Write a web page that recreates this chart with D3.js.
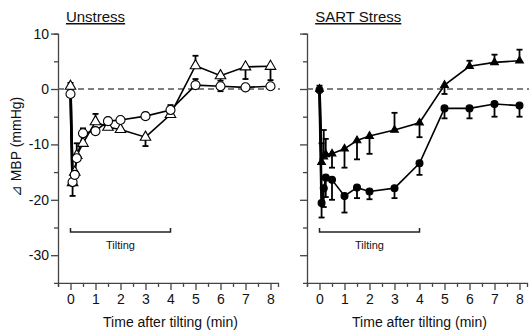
<!DOCTYPE html>
<html>
<head>
<meta charset="utf-8">
<script src="https://cdn.jsdelivr.net/npm/d3@7"></script>
<style>
  body { margin: 0; background: #fff; }
  text { font-family: "Liberation Sans", Arial, sans-serif; fill: #111; }
</style>
</head>
<body>
<div id="chart"></div>
<script>
'use strict';

// time points (min after tilting)
let times = [0, 0.083, 0.17, 0.25, 0.5, 1, 1.5, 2, 3, 4, 5, 6, 7, 8];

// Unstress panel: open circles / open triangles
let unCircle    = [-0.9, -16.8, -15.5, -12.5, -8.0, -7.6, -5.8, -5.6, -4.9, -3.8, 0.7, 0.5, 0.3, 0.5];
let unCircleErr = [null, null, null, null, -7.1, null, null, null, -4.3, -2.9, 1.8, -0.4, null, null];
let unTri       = [0.5, -16.9, -15.0, -12.0, -9.8, -5.9, -6.9, -7.3, -8.7, -4.6, 4.2, 2.4, 4.0, 4.1];
let unTriErr    = [1.1, -19.3, null, -9.8, null, -4.5, null, null, -10.3, null, 6.0, 1.5, 1.8, 1.6];

// SART Stress panel: filled circles / filled triangles
let stCircle    = [-0.2, -20.6, -17.9, -16.0, -16.4, -19.3, -17.8, -18.5, -17.9, -13.4, -3.5, -3.5, -2.7, -3.0];
let stCircleErr = [null, -23.2, -21.3, -19.5, -20.0, -22.3, -19.7, -19.9, -19.7, -15.5, -5.3, -5.3, -5.0, -5.0];
let stTri       = [0, -13.2, -12.2, -11.8, -11.7, -10.8, -9.3, -8.5, -7.4, -6.1, 0.7, 4.1, 4.8, 5.1];
let stTriErr    = [0.6, -9.8, -7.4, -9.0, -14.2, -14.2, -12.7, -11.7, -4.3, -8.7, -0.9, 5.1, 6.2, 7.1];

let xTicks = [0, 1, 2, 3, 4, 5, 6, 7, 8];
let yTicks = [10, 0, -10, -20, -30];
let tiltRange = [0, 4];

let width = 531, height = 331;
let svg = d3.select("#chart").append("svg")
    .attr("width", width).attr("height", height);

let y = d3.scaleLinear().domain([-35, 10]).range([282.9, 33.6]);

let panels = [
    {title: "Unstress", titleAt: 1, left: 58, right: 278, labels: true, filled: false,
     series: [{v: unTri, e: unTriErr, sym: d3.symbolTriangle}, {v: unCircle, e: unCircleErr, sym: d3.symbolCircle}]},
    {title: "SART Stress", titleAt: 1.55, left: 307, right: 527, labels: false, filled: true,
     series: [{v: stTri, e: stTriErr, sym: d3.symbolTriangle}, {v: stCircle, e: stCircleErr, sym: d3.symbolCircle}]}
];

let axisCol = "#444";

panels.forEach(function(p) {
    let x = d3.scaleLinear().domain([-0.5, 8.3]).range([p.left, p.right]);
    let g = svg.append("g");

    // y axis
    let yAxis = d3.axisLeft(y).tickValues(d3.range(-35, 10.1, 5)).tickSize(4)
        .tickFormat(function(d) { return (p.labels && yTicks.indexOf(d) >= 0) ? d : ""; });
    let ya = g.append("g").attr("transform", "translate(" + p.left + ",0)").call(yAxis);
    ya.select(".domain").attr("stroke", axisCol).attr("stroke-width", 1.3);
    ya.selectAll(".tick line").attr("stroke", axisCol).attr("stroke-width", 1.3)
        .attr("x2", function(d) { return yTicks.indexOf(d) >= 0 ? -7 : -4; });
    ya.selectAll(".tick").filter(function(d) { return d == -35; }).remove();
    ya.selectAll(".tick text").attr("x", -9).style("font-size", "14px")
        .style("font-family", '"Liberation Sans", Arial, sans-serif').attr("fill", "#111");

    // x axis
    let xAxis = d3.axisBottom(x).tickValues(d3.range(-0.5, 8.01, 0.5)).tickSize(4)
        .tickFormat(function(d) { return xTicks.indexOf(d) >= 0 ? d : ""; });
    let xa = g.append("g").attr("transform", "translate(0," + y(-35) + ")").call(xAxis);
    xa.select(".domain").attr("stroke", axisCol).attr("stroke-width", 1.3);
    xa.selectAll(".tick line").attr("stroke", axisCol).attr("stroke-width", 1.3)
        .attr("y2", function(d) { return xTicks.indexOf(d) >= 0 ? 7 : 4; });
    xa.selectAll(".tick text").attr("y", 11).style("font-size", "14px")
        .style("font-family", '"Liberation Sans", Arial, sans-serif').attr("fill", "#111");

    g.append("text").attr("x", (x(0) + x(8)) / 2 + 0).attr("y", 327)
        .attr("text-anchor", "middle").style("font-size", "14px")
        .text("Time after tilting (min)");

    // title
    g.append("text").attr("x", x(p.titleAt)).attr("y", 22)
        .attr("text-anchor", "middle").style("font-size", "15px")
        .style("text-decoration", "underline").text(p.title);

    // zero line
    g.append("line").attr("x1", p.left).attr("x2", p.right + 2)
        .attr("y1", y(0)).attr("y2", y(0))
        .attr("stroke", "#555").attr("stroke-width", 1.3).attr("stroke-dasharray", "6,4");

    // tilting bracket
    let by = y(-25.8);
    g.append("path")
        .attr("d", "M" + x(tiltRange[0]) + "," + (by - 4) + "V" + by + "H" + x(tiltRange[1]) + "V" + (by - 4))
        .attr("fill", "none").attr("stroke", "#222").attr("stroke-width", 1.5);
    g.append("text").attr("x", x(2)).attr("y", by + 17)
        .attr("text-anchor", "middle").style("font-size", "11px").text("Tilting");

    let line = d3.line().x(function(d) { return x(d[0]); }).y(function(d) { return y(d[1]); });

    p.series.forEach(function(s) {
        let pts = times.map(function(t, i) { return [t, s.v[i], s.e[i]]; });
        g.append("path").datum(pts).attr("d", line)
            .attr("fill", "none").attr("stroke", "#000").attr("stroke-width", 1.6);
        // drop from baseline drawn heavier
        g.append("path").datum(pts.slice(0, 2)).attr("d", line)
            .attr("fill", "none").attr("stroke", "#000").attr("stroke-width", 2.6);

        pts.filter(function(d) { return d[2] != null; }).forEach(function(d) {
            let cx = x(d[0]);
            g.append("line").attr("x1", cx).attr("x2", cx)
                .attr("y1", y(d[1])).attr("y2", y(d[2]))
                .attr("stroke", "#000").attr("stroke-width", 1.8);
            g.append("line").attr("x1", cx - 3).attr("x2", cx + 3)
                .attr("y1", y(d[2])).attr("y2", y(d[2]))
                .attr("stroke", "#000").attr("stroke-width", 1.8);
        });
    });

    p.series.forEach(function(s) {
        let isTri = s.sym === d3.symbolTriangle;
        let size = p.filled ? (isTri ? 26 : 38) : (isTri ? 48 : 64);
        let sym = d3.symbol().type(s.sym).size(size);
        g.selectAll(null).data(times.map(function(t, i) { return [t, s.v[i]]; }))
            .enter().append("path")
            .attr("d", sym)
            .attr("transform", function(d) { return "translate(" + x(d[0]) + "," + y(d[1]) + ")"; })
            .attr("fill", p.filled ? "#000" : "#fff")
            .attr("stroke", "#000").attr("stroke-width", 1.1);
    });
});

// y axis label
svg.append("text")
    .attr("transform", "translate(21,147) rotate(-90)")
    .attr("text-anchor", "middle").style("font-size", "14px")
    .text("⊿ MBP (mmHg)");
</script>
</body>
</html>
